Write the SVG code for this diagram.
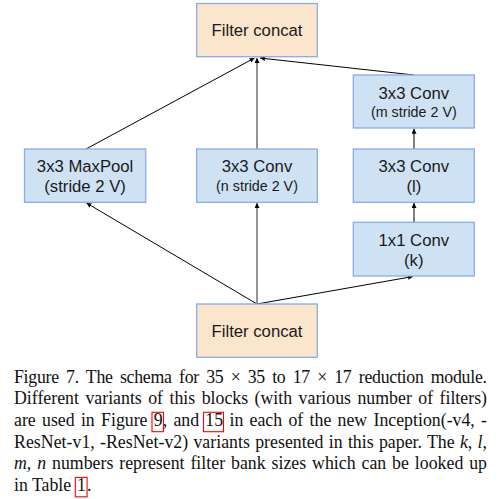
<svg xmlns="http://www.w3.org/2000/svg" width="502" height="499" viewBox="0 0 502 499">
<style>
.box{fill:#cfe2f3;stroke:#86ade9;stroke-width:1.3}
.cat{fill:#fce5cd;stroke:#86ade9;stroke-width:1.3}
.t{font-family:"Liberation Sans",Arial,sans-serif;font-size:16.7px;fill:#1a1a1a;text-anchor:middle}
.s{font-size:14.3px}
.c{stroke:#000;stroke-width:1;fill:none;marker-end:url(#ah)}
.g{stroke:#808080;stroke-width:1.7;fill:none;marker-end:url(#ah)}
.cap{font-family:"Liberation Serif","Times New Roman",serif;font-size:17.8px;fill:#111}
.i{font-style:italic}
.ref{fill:none;stroke:#ff0000;stroke-width:1.1}
</style>
<defs>
<marker id="ah" markerUnits="userSpaceOnUse" markerWidth="6" markerHeight="6" refX="5" refY="2.5" orient="auto">
<path d="M0,0 L5,2.5 L0,5 Z" fill="#000"/>
</marker>
</defs>
<g id="connectors">
<line class="c" x1="86" y1="149" x2="254.5" y2="58"/>
<line class="g" x1="257" y1="149" x2="257" y2="58"/>
<line class="c" x1="414" y1="75" x2="260" y2="58"/>
<line class="c" x1="257" y1="304" x2="86.5" y2="203"/>
<line class="g" x1="257" y1="304" x2="257" y2="203"/>
<line class="c" x1="257" y1="304" x2="413" y2="276.5"/>
<line class="c" x1="414" y1="222.3" x2="414" y2="203"/>
<line class="c" x1="414" y1="149" x2="414" y2="128.7"/>
</g>
<g id="concat-top">
<rect class="cat" x="196.7" y="3.5" width="120.6" height="53.2"/>
<text class="t" x="257" y="36.3">Filter concat</text>
</g>
<g id="conv-m">
<rect class="box" x="353.3" y="75" width="121" height="53"/>
<text class="t" x="413.8" y="98.8">3x3 Conv</text>
<text class="t s" x="413.8" y="117.3">(m stride 2 V)</text>
</g>
<g id="maxpool">
<rect class="box" x="24.5" y="149" width="121.2" height="53.3"/>
<text class="t" x="85.1" y="172.3">3x3 MaxPool</text>
<text class="t" x="85.1" y="192.3">(stride 2 V)</text>
</g>
<g id="conv-n">
<rect class="box" x="196.7" y="149" width="120.6" height="53.3"/>
<text class="t" x="257" y="172.3">3x3 Conv</text>
<text class="t s" x="257" y="190.7">(n stride 2 V)</text>
</g>
<g id="conv-l">
<rect class="box" x="353.3" y="149" width="121" height="53.3"/>
<text class="t" x="413.8" y="172.3">3x3 Conv</text>
<text class="t" x="413.8" y="192.3">(l)</text>
</g>
<g id="conv-k">
<rect class="box" x="353.3" y="222.3" width="121" height="53.7"/>
<text class="t" x="413.8" y="245.7">1x1 Conv</text>
<text class="t" x="413.8" y="266">(k)</text>
</g>
<g id="concat-bottom">
<rect class="cat" x="196.7" y="304" width="120.6" height="53.3"/>
<text class="t" x="257" y="336.8">Filter concat</text>
</g>
<g id="caption">
<text class="cap" x="14" y="382.5" word-spacing="3.06" textLength="473" lengthAdjust="spacing">Figure 7. The schema for 35 × 35 to 17 × 17 reduction module.</text>
<text class="cap" x="14" y="404.2" word-spacing="1.97" textLength="473" lengthAdjust="spacing">Different variants of this blocks (with various number of filters)</text>
<text class="cap" x="14" y="425.9" word-spacing="1.82" textLength="473" lengthAdjust="spacing">are used in Figure 9, and 15 in each of the new Inception(-v4, -</text>
<text class="cap" x="14" y="447.6" word-spacing="0.76" textLength="473" lengthAdjust="spacing">ResNet-v1, -ResNet-v2) variants presented in this paper. The <tspan class="i">k</tspan>, <tspan class="i">l</tspan>,</text>
<text class="cap" x="14" y="469.3" word-spacing="1.47" textLength="473" lengthAdjust="spacing"><tspan class="i">m</tspan>, <tspan class="i">n</tspan> numbers represent filter bank sizes which can be looked up</text>
<text class="cap" x="14" y="491">in Table <tspan x="77">1</tspan><tspan x="87">.</tspan></text>
<rect class="ref" x="75.3" y="477.4" width="11.8" height="19.4"/>
<rect class="ref" x="152" y="412.3" width="11.5" height="19.4"/>
<rect class="ref" x="203.5" y="412.3" width="20" height="19.4"/>
</g>
</svg>
